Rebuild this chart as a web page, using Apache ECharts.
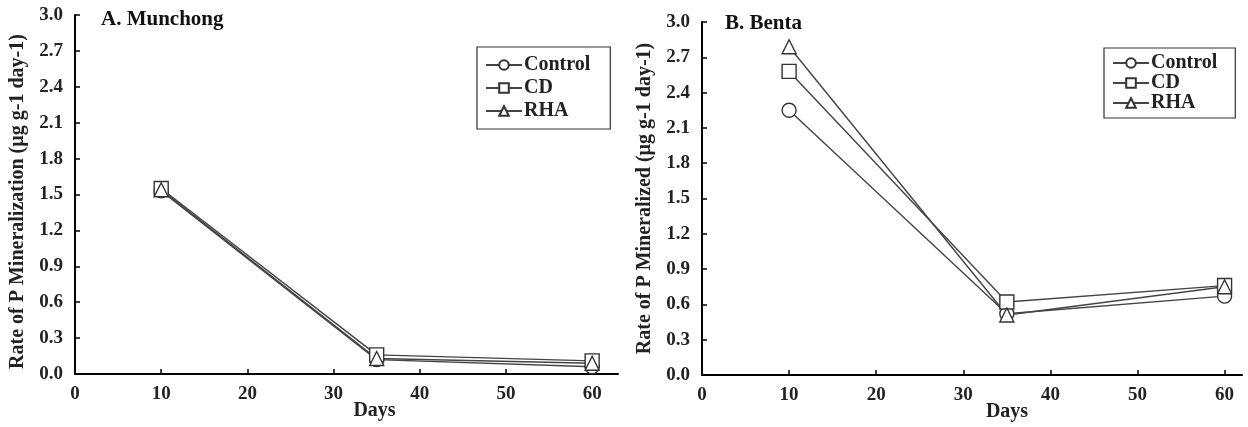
<!DOCTYPE html>
<html>
<head>
<meta charset="utf-8">
<script src="https://cdn.jsdelivr.net/npm/echarts@6/dist/echarts.min.js"></script>
<style>
  html, body { margin: 0; padding: 0; background: #fff; }
  #chart { width: 1248px; height: 427px; }
</style>
</head>
<body>
<div id="chart"></div>
<script>
// days of incubation
var days = [10, 35, 60];
var xTickValues = [0, 10, 20, 30, 40, 50, 60];
var seriesNames = ['Control', 'CD', 'RHA'];

// A. Munchong
var munchongControl = [1.53, 0.12, 0.06];
var munchongCD = [1.55, 0.16, 0.11];
var munchongRHA = [1.54, 0.13, 0.09];

// B. Benta
var bentaControl = [2.25, 0.52, 0.67];
var bentaCD = [2.58, 0.62, 0.76];
var bentaRHA = [2.79, 0.51, 0.75];

var font = 'Liberation Serif';
var txt = '#222';

function pairs(vals) {
  return days.map(function (d, i) { return [d, vals[i]]; });
}

var symbols = ['circle', 'rect', 'triangle'];

function makeSeries(name, vals, idx, sym) {
  return {
    name: name,
    type: 'line',
    xAxisIndex: idx,
    yAxisIndex: idx,
    data: pairs(vals),
    symbol: sym,
    symbolSize: 14,
    showAllSymbol: true,
    lineStyle: { color: '#444', width: 1.4 },
    itemStyle: { color: '#fff', borderColor: '#333', borderWidth: 1.4 },
    emphasis: { disabled: true }
  };
}

function xAxisCfg(idx, max, pad) {
  return {
    type: 'value',
    gridIndex: idx,
    min: 0,
    max: max,
    interval: 10,
    name: 'Days',
    nameLocation: 'middle',
    nameGap: 27,
    nameMoveOverlap: false,
    nameTextStyle: { fontFamily: font, fontWeight: 'bold', fontSize: 20, color: txt, padding: [0, 0, 0, pad] },
    axisLine: { lineStyle: { color: '#000', width: 2 } },
    axisTick: { inside: true, length: 5, customValues: xTickValues, lineStyle: { color: '#000', width: 1.5 } },
    axisLabel: { customValues: xTickValues, margin: 11, fontFamily: font, fontWeight: 'bold', fontSize: 19, color: txt },
    splitLine: { show: false }
  };
}

function yAxisCfg(idx, name, namePad) {
  return {
    type: 'value',
    gridIndex: idx,
    min: 0,
    max: 3,
    interval: 0.3,
    name: name,
    nameLocation: 'middle',
    nameGap: 47,
    nameMoveOverlap: false,
    nameTextStyle: { fontFamily: font, fontWeight: 'bold', fontSize: 20, color: txt, padding: [0, namePad, 0, 0] },
    axisLine: { show: true, lineStyle: { color: '#000', width: 2 } },
    axisTick: { show: true, inside: true, length: 5, lineStyle: { color: '#000', width: 1.5 } },
    axisLabel: {
      margin: 12, fontFamily: font, fontWeight: 'bold', fontSize: 19, color: txt,
      formatter: function (v) { return v.toFixed(1); }
    },
    splitLine: { show: false }
  };
}

function legendCfg(left, top, gap, padTop, padRight) {
  return {
    orient: 'vertical',
    left: left,
    top: top,
    data: seriesNames,
    itemWidth: 36,
    itemHeight: 12,
    itemGap: gap,
    padding: [padTop, padRight, padTop, 8],
    borderColor: '#333',
    borderWidth: 1.2,
    selectedMode: false,
    textStyle: { fontFamily: font, fontWeight: 'bold', fontSize: 20, lineHeight: 20, color: txt, padding: [0, 0, 0, -3] }
  };
}

var chart = echarts.init(document.getElementById('chart'));
chart.setOption({
  backgroundColor: '#fff',
  animation: false,
  title: [
    { text: 'A. Munchong', left: 96, top: 4, textStyle: { fontFamily: font, fontWeight: 'bold', fontSize: 21, color: '#111' } },
    { text: 'B. Benta', left: 720, top: 8, textStyle: { fontFamily: font, fontWeight: 'bold', fontSize: 21, color: '#111' } }
  ],
  legend: [legendCfg(477, 47, 3, 8, 20), legendCfg(1104, 48, 0, 5, 18)],
  grid: [
    { left: 75, top: 15, right: 630, bottom: 53, outerBoundsMode: 'none' },
    { left: 702, top: 22, right: 6, bottom: 52, outerBoundsMode: 'none' }
  ],
  xAxis: [xAxisCfg(0, 63, 56), xAxisCfg(1, 62, 70)],
  yAxis: [
    yAxisCfg(0, 'Rate of P Mineralization (µg g-1 day-1)', 14),
    yAxisCfg(1, 'Rate of P Mineralized (µg g-1 day-1)', 0)
  ],
  series: [
    makeSeries('Control', munchongControl, 0, symbols[0]),
    makeSeries('CD', munchongCD, 0, symbols[1]),
    makeSeries('RHA', munchongRHA, 0, symbols[2]),
    makeSeries('Control', bentaControl, 1, symbols[0]),
    makeSeries('CD', bentaCD, 1, symbols[1]),
    makeSeries('RHA', bentaRHA, 1, symbols[2])
  ]
});
</script>
</body>
</html>
